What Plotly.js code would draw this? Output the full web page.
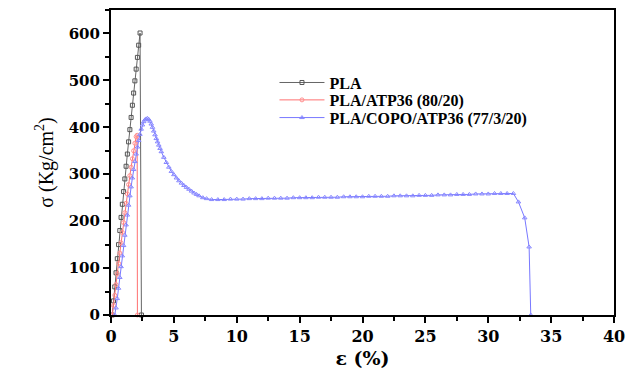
<!DOCTYPE html>
<html>
<head>
<meta charset="utf-8">
<script src="https://cdn.plot.ly/plotly-3.0.1.min.js"></script>
<style>html,body{margin:0;padding:0;background:#fff;}#chart{width:637px;height:374px;}</style>
</head>
<body>
<div id="chart"></div>
<script>
// Series names
var seriesNames = ["PLA", "PLA/ATP36 (80/20)", "PLA/COPO/ATP36 (77/3/20)"];

// PLA
var plaStrain = [0.10,0.20,0.30,0.40,0.50,0.60,0.70,0.80,0.90,1.00,1.10,1.20,1.30,1.40,1.50,1.60,1.70,1.80,1.90,2.00,2.10,2.20,2.31,2.42];
var plaStress = [0,30,60,90,120,150,180,208,236,263,290,317,343,369,395,421,447,473,499,524,549,575,601,0];

// PLA/ATP36 (80/20)
var atpStrain = [0.10,0.20,0.30,0.40,0.50,0.60,0.70,0.80,0.90,1.00,1.10,1.20,1.30,1.40,1.50,1.60,1.70,1.80,1.90,2.00,2.08,2.10];
var atpStress = [0,20,42,65,88,110,132,154,176,197,218,238,258,278,297,315,333,350,366,380,383,0];

// PLA/COPO/ATP36 (77/3/20)
var copoStrain = [0.30,0.40,0.50,0.60,0.70,0.80,0.90,1.00,1.10,1.20,1.30,1.40,1.50,1.60,1.70,1.80,1.90,2.00,2.10,2.20,2.30,2.40,2.50,2.60,2.70,2.80,2.90,
  3.00,3.10,3.20,3.30,3.40,3.50,3.60,3.70,3.80,3.90,4.00,4.20,4.40,4.60,4.80,5.00,5.20,5.40,5.60,5.80,6.00,6.20,6.40,6.60,6.80,7.00,7.30,7.60,8.00,
  8.5,9,9.5,10,10.5,11,11.5,12,12.5,13,13.5,14,14.5,15,15.5,16,16.5,17,17.5,18,18.5,19,19.5,20,20.5,21,21.5,22,22.5,23,23.5,24,24.5,25,25.5,26,26.5,27,27.5,28,28.5,29,29.5,30,30.5,31,31.5,32,
  32.4,32.9,33.25,33.38];
var copoStress = [0,15,35,57,80,103,126,148,170,192,213,234,254,273,292,310,327,343,358,372,385,396,405,412,416,418,419,
  417,413,407,400,392,384,376,369,362,355,348,336,325,315,306,299,292,286,281,276,272,268,264,260,257,254,250,248,246,
  246,246,247,247,247,248,248,248,249,249,249,249,250,250,250,250,251,251,251,251,252,252,252,252,253,253,253,253,254,254,254,254,255,255,255,256,256,256,257,257,257,258,258,258,259,259,259,259,
  241,207,145,0];

var serif = "Liberation Serif";
var wideSerif = "DejaVu Serif";

var traces = [
  {x: plaStrain, y: plaStress, name: seriesNames[0], legend: "legend", type: "scatter", mode: "lines+markers", cliponaxis: false,
   line: {color: "#666666", width: 1},
   marker: {symbol: "square-open", size: 4, color: "#555555", line: {width: 1}}},
  {x: atpStrain, y: atpStress, name: seriesNames[1], legend: "legend2", type: "scatter", mode: "lines+markers", cliponaxis: false,
   line: {color: "#ff7070", width: 1},
   marker: {symbol: "circle-open", size: 4, color: "#ff9090", line: {width: 1}}},
  {x: copoStrain, y: copoStress, name: seriesNames[2], legend: "legend3", type: "scatter", mode: "lines+markers", cliponaxis: false,
   line: {color: "#7878ff", width: 1},
   marker: {symbol: "triangle-up-open", size: 4, color: "#8888ff", line: {width: 1}}}
];

function legendAt(y) {
  return {x: 0.325, y: y, xanchor: "left", yanchor: "middle", bgcolor: "rgba(0,0,0,0)",
    font: {family: serif, size: 16, color: "#000", weight: "bold"}, itemwidth: 45};
}

var layout = {
  width: 637, height: 374,
  margin: {l: 111, r: 23, t: 10, b: 59},
  paper_bgcolor: "#fff", plot_bgcolor: "#fff",
  showlegend: true,
  legend: legendAt(0.762),
  legend2: legendAt(0.705),
  legend3: legendAt(0.647),
  xaxis: {
    range: [0, 40], dtick: 5, tick0: 0, showgrid: false, zeroline: false,
    showline: true, linewidth: 2, linecolor: "#000", mirror: true,
    ticks: "outside", ticklen: 6, tickwidth: 2, tickcolor: "#000",
    minor: {dtick: 2.5, ticks: "outside", ticklen: 4, tickwidth: 2, tickcolor: "#000"},
    tickfont: {family: wideSerif, size: 16, color: "#000", weight: "bold"},
    title: {text: "ε (%)", font: {family: wideSerif, size: 19, color: "#000", weight: "bold"}, standoff: 6}
  },
  yaxis: {
    range: [0, 650], dtick: 100, tick0: 0, showgrid: false, zeroline: false,
    showline: true, linewidth: 2, linecolor: "#000", mirror: true,
    ticks: "outside", ticklen: 6, tickwidth: 2, tickcolor: "#000",
    minor: {dtick: 50, ticks: "outside", ticklen: 4, tickwidth: 2, tickcolor: "#000"},
    tickfont: {family: wideSerif, size: 15, color: "#000", weight: "bold"},
    title: {text: "σ (Kg/cm<sup>2</sup>)", font: {family: serif, size: 20, color: "#000"}, standoff: 10}
  }
};

Plotly.newPlot("chart", traces, layout, {displayModeBar: false, staticPlot: true});
</script>
</body>
</html>
